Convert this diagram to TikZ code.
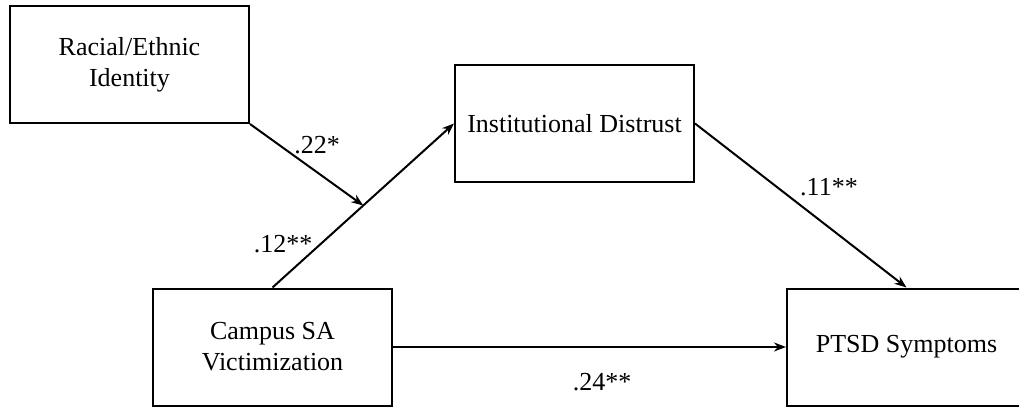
\documentclass[tikz,border=0pt]{standalone}
\usepackage{fontspec}
\setmainfont{Liberation Serif}
\usetikzlibrary{arrows.meta, calc}

\begin{document}
\begin{tikzpicture}[
    x=0.5pt, y=-0.5pt,
    myarrow/.style={line width=1pt, -{Stealth[length=6pt, width=4.5pt]}},
    boxstyle/.style={draw, line width=1pt, minimum width=119.5pt, minimum height=58.5pt,
        align=center, font=\fontsize{13}{15.5}\selectfont},
    coef/.style={font=\fontsize{13}{15}\selectfont}
]
    \useasboundingbox (0,0) rectangle (1019,407);

    % --- Boxes ---
    \node[boxstyle] (race) at (129.5, 64.5) {Racial/Ethnic\\Identity};
    \node[boxstyle] (distrust) at (574.5, 123.5) {Institutional Distrust};
    \node[boxstyle] (campus) at (272.5, 347) {Campus SA\\Victimization};
    \node[boxstyle] (ptsd) at (906.5, 347) {PTSD Symptoms};

    % --- Paths ---
    \draw[myarrow] (campus.north) -- (distrust.west);
    \coordinate (moderate) at ($(campus.north)!0.5!(distrust.west)$);
    \draw[myarrow] (race.south east) -- (moderate);
    \draw[myarrow] (distrust.east) -- (ptsd.north);
    \draw[myarrow] (campus.east) -- (ptsd.west);

    % --- Coefficients ---
    \node[coef] (bRace) at (317, 145) {.22*};
    \node[coef] (bCampus) at (283, 244) {.12**};
    \node[coef] (bDistrust) at (829, 187) {.11**};
    \node[coef] (bDirect) at (602, 382) {.24**};

\end{tikzpicture}
\end{document}
